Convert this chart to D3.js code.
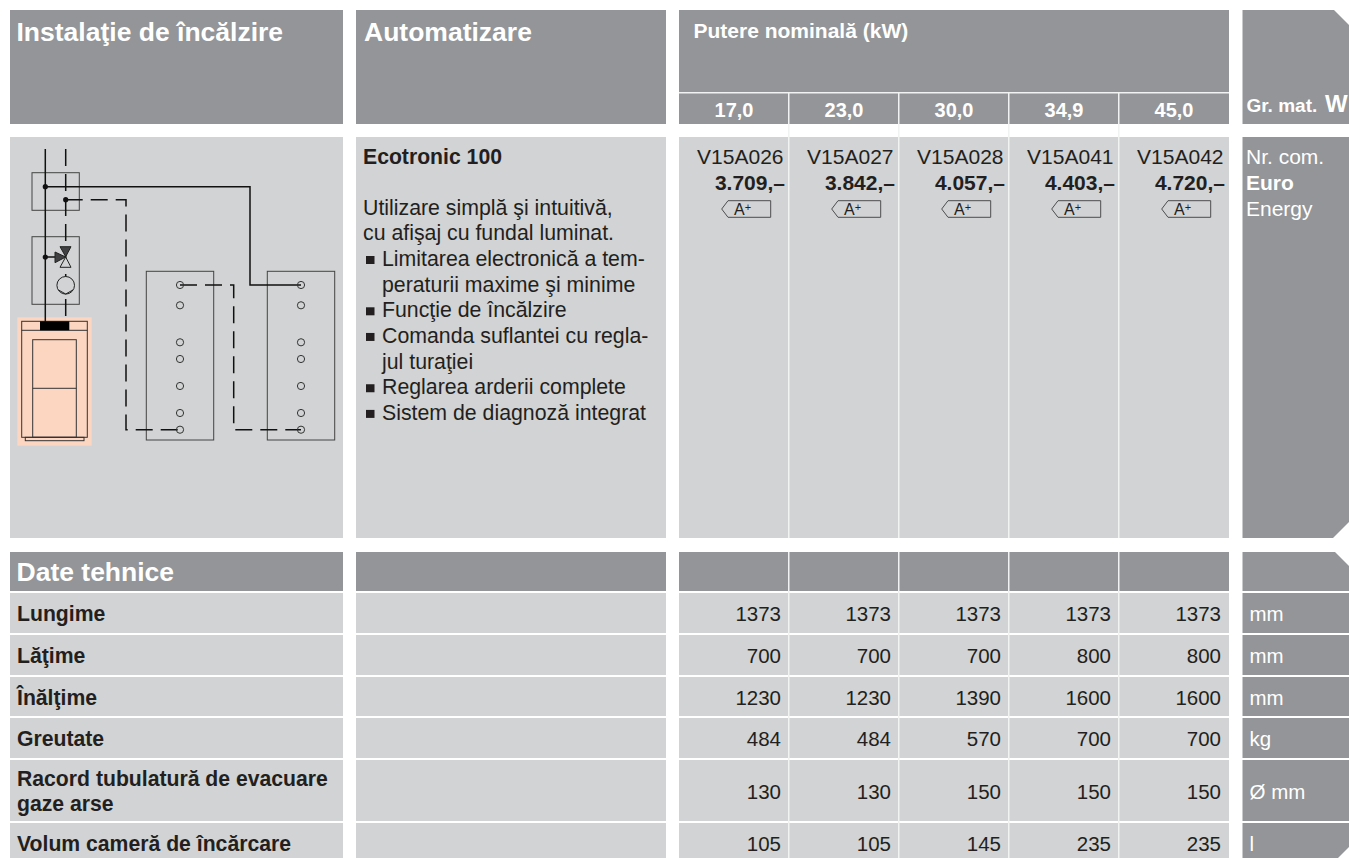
<!DOCTYPE html>
<html lang="ro">
  <head>
    <meta charset="utf-8">
    <title>Instalatie de incalzire</title>
    <script src="https://cdn.jsdelivr.net/npm/d3@7"></script>
    <style>
      html, body { margin: 0; padding: 0; background: #fff; overflow: hidden; }
      svg { display: block; }
      text { font-family: "Liberation Sans", Arial, sans-serif; }
    </style>
  </head>

  <body>
    <svg></svg>

  <script>

// Data

  var powers = ["17,0", "23,0", "30,0", "34,9", "45,0"];
  var codes = ["V15A026", "V15A027", "V15A028", "V15A041", "V15A042"];
  var prices = ["3.709,–", "3.842,–", "4.057,–", "4.403,–", "4.720,–"];
  var rowLabels = [["Lungime"], ["Lăţime"], ["Înălţime"], ["Greutate"],
                   ["Racord tubulatură de evacuare", "gaze arse"], ["Volum cameră de încărcare"]];
  var rowUnits = ["mm", "mm", "mm", "kg", "Ø mm", "l"];
  var rowValues = [[1373, 1373, 1373, 1373, 1373],
                   [700, 700, 700, 800, 800],
                   [1230, 1230, 1390, 1600, 1600],
                   [484, 484, 570, 700, 700],
                   [130, 130, 150, 150, 150],
                   [105, 105, 145, 235, 235]];
  var controlLines = [{t: "Utilizare simplă şi intuitivă,"},
                      {t: "cu afişaj cu fundal luminat."},
                      {t: "Limitarea electronică a tem-", bullet: true},
                      {t: "peraturii maxime şi minime", indent: true},
                      {t: "Funcţie de încălzire", bullet: true},
                      {t: "Comanda suflantei cu regla-", bullet: true},
                      {t: "jul turaţiei", indent: true},
                      {t: "Reglarea arderii complete", bullet: true},
                      {t: "Sistem de diagnoză integrat", bullet: true}];
  var unitRowsTop = ["Nr. com.", "Euro", "Energy"];

  var w = 1349;
  var h = 858;
  var dark = "#939598";
  var light = "#d1d3d4";
  var ink = "#231f20";
  var panelX = 1242.5;

  var svg = d3.select("svg")
      .attr("width", w)
      .attr("height", h);

  var xPower = d3.scaleBand().domain(powers).range([679, 1229]);

  // row tops and heights for the technical table, last one runs off the page
  var rowHeights = [40, 40, 39, 40, 61, 39];
  var rowTops = d3.cumsum([593].concat(rowHeights.map(d => d + 2)));

  function box(x, y, wd, ht, fill) {
    return svg.append("rect").attr("x", x).attr("y", y).attr("width", wd).attr("height", ht).attr("fill", fill);
  }

  function label(x, y, str, size, bold, fill, anchor) {
    return svg.append("text")
        .attr("x", x).attr("y", y)
        .attr("font-size", size)
        .attr("font-weight", bold ? "bold" : "normal")
        .attr("fill", fill)
        .attr("text-anchor", anchor || "start")
        .text(str);
  }

  // right column panels have a cut corner
  function cutPanel(y0, y1, cutTop, cutBottom) {
    var pts = [[panelX, y0], [w - cutTop, y0], [w, y0 + cutTop], [w, y1 - cutBottom], [w - cutBottom, y1], [panelX, y1]];
    svg.append("path").attr("d", d3.line()(pts) + "Z").attr("fill", dark);
  }

// Header

  box(10, 10, 333, 114, dark);
  box(356, 10, 310, 114, dark);
  box(679, 10, 550, 114, dark);
  cutPanel(10, 124, 15, 0);

  label(16.5, 41, "Instalaţie de încălzire", 26.5, true, "#fff");
  label(364, 41, "Automatizare", 26.5, true, "#fff");
  label(693.5, 37.5, "Putere nominală (kW)", 21, true, "#fff");

  box(679, 92, 550, 1.5, "#f1f2f2");

  svg.append("g").selectAll("text")
      .data(powers)
    .enter().append("text")
      .attr("x", d => xPower(d) + xPower.bandwidth() / 2)
      .attr("y", 116.5)
      .attr("text-anchor", "middle")
      .attr("font-size", 20)
      .attr("font-weight", "bold")
      .attr("fill", "#fff")
      .text(d => d);

  label(1246.5, 111.5, "Gr. mat.", 19, true, "#fff");
  label(1325, 111.5, "W", 24, true, "#fff");

// Body panels

  box(10, 137, 333, 401, light);
  box(356, 137, 310, 401, light);
  box(679, 137, 550, 401, light);
  cutPanel(137, 538, 0, 16);

  label(363, 164, "Ecotronic 100", 21.2, true, ink);

  svg.append("g").selectAll("text")
      .data(controlLines)
    .enter().append("text")
      .attr("x", d => d.bullet || d.indent ? 382 : 363)
      .attr("y", (d, i) => 214.7 + i * 25.65)
      .attr("font-size", 21.3)
      .attr("fill", ink)
      .text(d => d.t);

  svg.append("g").selectAll("rect")
      .data(controlLines.map((d, i) => ({bullet: d.bullet, i: i})).filter(d => d.bullet))
    .enter().append("rect")
      .attr("x", 366)
      .attr("y", d => 214.7 + d.i * 25.65 - 10)
      .attr("width", 8.5)
      .attr("height", 8)
      .attr("fill", ink);

  var cols = svg.append("g").selectAll("g")
      .data(powers)
    .enter().append("g")
      .attr("transform", d => `translate(${xPower(d)},0)`);

  cols.append("text")
      .attr("x", 104.5).attr("y", 163.5)
      .attr("text-anchor", "end").attr("font-size", 21).attr("fill", ink)
      .text((d, i) => codes[i]);

  cols.append("text")
      .attr("x", 106).attr("y", 189.5)
      .attr("text-anchor", "end").attr("font-size", 21).attr("font-weight", "bold").attr("fill", ink)
      .text((d, i) => prices[i]);

  // energy class tag
  cols.append("path")
      .attr("d", d3.line()([[42.7, 209], [49, 200.7], [91.7, 200.7], [91.7, 217.3], [49, 217.3]]) + "Z")
      .attr("fill", "none")
      .attr("stroke", "#4d4d4f")
      .attr("stroke-width", 1);

  var tag = cols.append("text")
      .attr("x", 55).attr("y", 215)
      .attr("font-size", 16).attr("fill", ink);
  tag.append("tspan").text("A");
  tag.append("tspan").attr("font-size", 11).attr("dy", -4).text("+");

  svg.append("g").selectAll("text")
      .data(unitRowsTop)
    .enter().append("text")
      .attr("x", 1246)
      .attr("y", (d, i) => 163.5 + i * 26)
      .attr("font-size", 21)
      .attr("font-weight", (d, i) => i == 1 ? "bold" : "normal")
      .attr("fill", "#fff")
      .text(d => d);

// Technical data

  box(10, 552, 333, 39, dark);
  box(356, 552, 310, 39, dark);
  box(679, 552, 550, 39, dark);
  cutPanel(552, 591, 14, 0);
  label(16.5, 581, "Date tehnice", 26.5, true, "#fff");

  var rows = svg.append("g").selectAll("g")
      .data(rowValues)
    .enter().append("g")
      .attr("transform", (d, i) => `translate(0,${rowTops[i]})`);

  rows.append("rect").attr("x", 10).attr("width", 333).attr("height", (d, i) => rowHeights[i]).attr("fill", light);
  rows.append("rect").attr("x", 356).attr("width", 310).attr("height", (d, i) => rowHeights[i]).attr("fill", light);
  rows.append("rect").attr("x", 679).attr("width", 550).attr("height", (d, i) => rowHeights[i]).attr("fill", light);

  rows.each(function(d, i) {
    var ht = rowHeights[i];
    var pts = [[panelX, 0], [w, 0], [w, ht], [panelX, ht]];
    if (i == rowValues.length - 1) {
      // corner is cut where the page ends
      var bottom = h - rowTops[i];
      pts = [[panelX, 0], [w, 0], [w, bottom - 11], [w - 11, bottom], [panelX, bottom]];
    }
    d3.select(this).append("path").attr("d", d3.line()(pts) + "Z").attr("fill", dark);
  });

  rows.selectAll(".val")
      .data(d => d)
    .enter().append("text")
      .attr("class", "val")
      .attr("x", (d, i) => xPower(powers[i]) + 102)
      .attr("font-size", 20.5)
      .attr("text-anchor", "end")
      .attr("fill", ink)
      .attr("y", function() {
        var i = rowValues.indexOf(d3.select(this.parentNode).datum());
        return rowHeights[i] / 2 + 8;
      })
      .text(d => d);

  rows.each(function(d, i) {
    var lines = rowLabels[i];
    var g = d3.select(this);
    lines.forEach(function(str, k) {
      g.append("text")
          .attr("x", 17)
          .attr("y", rowHeights[i] / 2 + 8 + (k - (lines.length - 1) / 2) * 25)
          .attr("font-size", 21.2)
          .attr("font-weight", "bold")
          .attr("fill", ink)
          .text(str);
    });
    g.append("text")
        .attr("x", 1249.5)
        .attr("y", rowHeights[i] / 2 + 8)
        .attr("font-size", 20.5)
        .attr("fill", "#fff")
        .text(rowUnits[i]);
  });

// Column separators over the power columns

  svg.append("g").selectAll("rect")
      .data(powers.slice(1))
    .enter().append("rect")
      .attr("x", d => xPower(d) - 1)
      .attr("y", 92)
      .attr("width", 1.5)
      .attr("height", 766)
      .attr("fill", "#f1f2f2");

  // the gap between body and technical table stays clear
  box(679, 538, 550, 14, "#fff");

// Schematic

  var diagram = svg.append("g").attr("fill", "none");
  var solid = "#111";

  diagram.append("rect").attr("x", 17.3).attr("y", 317.3).attr("width", 74.4).attr("height", 128.4).attr("fill", "#fdd6c1");

  function frame(x0, y0, x1, y1, col, sw) {
    diagram.append("rect").attr("x", x0).attr("y", y0).attr("width", x1 - x0).attr("height", y1 - y0)
        .attr("stroke", col || "#444").attr("stroke-width", sw || 1);
  }

  function wire(pts, dashed) {
    diagram.append("path").attr("d", d3.line()(pts))
        .attr("stroke", solid).attr("stroke-width", 1.5)
        .attr("stroke-dasharray", dashed ? "17 8" : null);
  }

  frame(32, 172.7, 79.3, 210.3);
  frame(32, 236.7, 79.3, 304.3);
  frame(146.3, 271.3, 213.7, 440);
  frame(267.3, 271.3, 334.7, 440);

  wire([[45.3, 149], [45.3, 322]]);
  wire([[65.7, 149], [65.7, 322]], true);
  wire([[45.3, 186.7], [250, 186.7], [250, 285], [301, 285]]);
  wire([[65.7, 199.7], [126, 199.7], [126, 429.7], [180, 429.7]], true);
  wire([[180, 285], [233.7, 285], [233.7, 429.7], [301, 429.7]], true);
  wire([[45.3, 257], [56, 257]]);

  [[45.3, 186.7], [65.7, 199.7], [45.3, 257]].forEach(function(p) {
    diagram.append("circle").attr("cx", p[0]).attr("cy", p[1]).attr("r", 2.6).attr("fill", solid);
  });

  [[[60, 246.7], [71, 246.7], [65.7, 256.7]], [[55, 252], [55, 262.7], [65.7, 257]]].forEach(function(t) {
    diagram.append("path").attr("d", d3.line()(t) + "Z").attr("fill", "#414042").attr("stroke", "#222");
  });
  diagram.append("path").attr("d", d3.line()([[65.7, 257], [60, 267.3], [71, 267.3]]) + "Z")
      .attr("fill", light).attr("stroke", "#222");

  diagram.append("circle").attr("cx", 65.7).attr("cy", 285.3).attr("r", 8.8).attr("fill", light).attr("stroke", "#222");
  diagram.append("path").attr("d", d3.line()([[58.5, 290], [65.7, 294], [72.9, 290]])).attr("stroke", "#222");

  [146.3, 267.3].forEach(function(x0) {
    [285, 305.3, 342.3, 359, 386, 413, 429.7].forEach(function(cy) {
      diagram.append("circle").attr("cx", x0 + 33.7).attr("cy", cy).attr("r", 3.6).attr("stroke", "#333").attr("stroke-width", 1);
    });
  });

  frame(21.7, 321.3, 87.3, 437.3, "#333");
  frame(32.7, 339.7, 76.3, 437.3, "#333");
  frame(25.3, 437.3, 84, 440.7, "#333");
  diagram.append("path").attr("d", d3.line()([[21.7, 330.3], [87.3, 330.3]])).attr("stroke", "#333");
  diagram.append("path").attr("d", d3.line()([[32.7, 388.3], [76.3, 388.3]])).attr("stroke", "#333");
  diagram.append("rect").attr("x", 40).attr("y", 321.3).attr("width", 29.3).attr("height", 9).attr("fill", "#000");

    </script>

  </body>

</html>
